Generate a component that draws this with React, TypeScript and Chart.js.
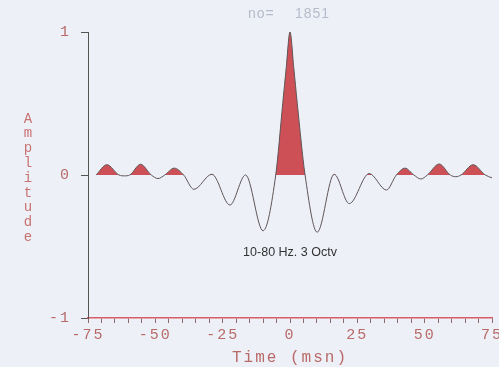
import React, { useEffect, useRef } from 'react';
import { Chart, registerables } from 'chart.js';
Chart.register(...registerables);

// Wavelet samples (time in ms, amplitude)
const times = [-72, -68, -63.5, -61.5, -59.5, -55.5, -51.5, -49, -46.5, -43,
  -39.5, -35.7, -29, -22.3, -16.5, -10, -5.3, -2.7, -1.4, 0,
  1.4, 2.7, 5.6, 10.1, 16.4, 22, 29.4, 35.8, 39.5, 42.7,
  46, 48.6, 51, 55.4, 59.5, 61.6, 63.5, 68, 72.5, 75];
const amps = [0, 0.072, 0, -0.006, 0, 0.075, 0, -0.025, 0, 0.048,
  0, -0.10, 0.005, -0.21, 0.0, -0.39, 0, 0.5, 0.75, 1.0,
  0.75, 0.5, 0, -0.40, 0.005, -0.20, 0.01, -0.105, 0, 0.048,
  0, -0.028, 0, 0.077, 0, -0.012, 0, 0.072, 0, -0.02];

const xMin = -75;
const xMax = 75;
const xMajorTicks = [-75, -50, -25, 0, 25, 50, 75];
const yTicks = [-1, 0, 1];
const xTitle = 'Time (msn)';
const yTitle = 'Amplitude';
const topNote = ['no=', '1851'];
const annotation = '10-80 Hz. 3 Octv';

const MONO = '"Liberation Mono", "DejaVu Sans Mono", monospace';
const LABEL_COLOR = '#b86a68';

const textPlugin = {
  id: 'extraText',
  beforeDraw(chart: any) {
    chart.ctx.letterSpacing = '2px';
  },
  afterDraw(chart: any) {
    const ctx = chart.ctx;
    const xs = chart.scales.x;
    const ys = chart.scales.y;
    ctx.save();
    ctx.letterSpacing = '0px';
    // vertical stacked y title
    ctx.fillStyle = '#c87272';
    ctx.font = '14px ' + MONO;
    ctx.textAlign = 'center';
    ctx.textBaseline = 'middle';
    const letters = yTitle.split('');
    const step = 14.8;
    const cy = (chart.chartArea.top + chart.chartArea.bottom) / 2 + 3;
    const start = cy - (step * (letters.length - 1)) / 2;
    letters.forEach((ch: string, i: number) => ctx.fillText(ch, 28, start + i * step));
    // top note
    ctx.fillStyle = '#b4bccb';
    ctx.font = '14px "Liberation Sans", Arial, sans-serif';
    ctx.textAlign = 'left';
    ctx.letterSpacing = '1px';
    ctx.fillText(topNote[0], 248, 14);
    ctx.fillText(topNote[1], 295, 14);
    ctx.letterSpacing = '0px';
    // annotation
    ctx.fillStyle = '#333333';
    ctx.font = '12.5px "Liberation Sans Narrow", "Liberation Sans", Arial, sans-serif';
    ctx.textAlign = 'center';
    ctx.fillText(annotation, xs.getPixelForValue(0), ys.getPixelForValue(-0.545));
    ctx.restore();
  },
};

export default function App() {
  const ref = useRef<HTMLCanvasElement>(null);
  useEffect(() => {
    if (!ref.current) return;
    const data = times.map((t, i) => ({ x: t, y: amps[i] }));
    const chart = new Chart(ref.current, {
      type: 'line',
      data: {
        datasets: [{
          data,
          borderColor: '#5e5456',
          borderWidth: 1,
          pointRadius: 0,
          cubicInterpolationMode: 'monotone',
          fill: { target: { value: 0 }, above: '#cc5056', below: 'rgba(0,0,0,0)' },
        }],
      },
      options: {
        animation: false,
        responsive: true,
        maintainAspectRatio: false,
        layout: { padding: { top: 32, right: 7, left: 0, bottom: 0 } },
        plugins: { legend: { display: false }, tooltip: { enabled: false }, title: { display: false } },
        scales: {
          x: {
            type: 'linear',
            min: xMin,
            max: xMax,
            position: 'bottom',
            border: { color: '#d85c66', width: 1.5 },
            grid: { drawOnChartArea: false, drawTicks: true, tickLength: 5, color: '#8a6a6a' },
            ticks: {
              stepSize: 5,
              autoSkip: false,
              maxRotation: 0,
              color: LABEL_COLOR,
              padding: 3,
              font: { family: MONO, size: 15 },
              callback: (v: any) => (xMajorTicks.includes(Number(v)) ? String(v) : ''),
            },
            title: {
              display: true,
              text: xTitle,
              color: LABEL_COLOR,
              font: { family: MONO, size: 16 },
              padding: { top: 0, bottom: 0 },
            },
            afterFit: (s: any) => { s.height = 49; s.paddingLeft = 0; s.paddingRight = 0; },
          },
          y: {
            type: 'linear',
            min: -1,
            max: 1,
            border: { color: '#555555', width: 1 },
            grid: { drawOnChartArea: false, drawTicks: true, tickLength: 7, color: '#555555' },
            afterBuildTicks: (s: any) => { s.ticks = yTicks.map((v) => ({ value: v })); },
            ticks: {
              color: LABEL_COLOR,
              padding: 10,
              font: { family: MONO, size: 15 },
              callback: (v: any) => String(v),
            },
            afterFit: (s: any) => { s.width = 88; s.paddingTop = 0; s.paddingBottom = 0; },
          },
        },
      },
      plugins: [textPlugin],
    } as any);
    return () => chart.destroy();
  }, []);
  return (
    <div style={{ position: 'fixed', left: 0, top: 0, width: 499, height: 367, background: '#edf0f6' }}>
      <canvas ref={ref} />
    </div>
  );
}
